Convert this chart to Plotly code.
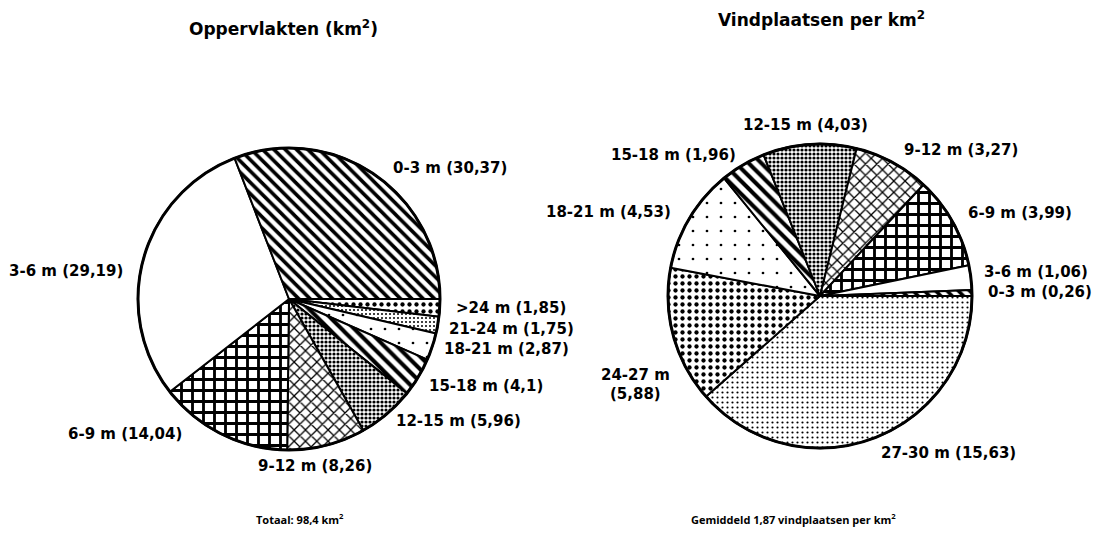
import plotly.graph_objects as go

W, H = 1098, 534

# --- data -------------------------------------------------------------
area_classes = ["0-3 m", "3-6 m", "6-9 m", "9-12 m", "12-15 m",
                "15-18 m", "18-21 m", "21-24 m", ">24 m"]
area_values = [30.37, 29.19, 14.04, 8.26, 5.96, 4.1, 2.87, 1.75, 1.85]

site_classes = ["0-3 m", "3-6 m", "6-9 m", "9-12 m", "12-15 m",
                "15-18 m", "18-21 m", "24-27 m", "27-30 m"]
site_values = [0.26, 1.06, 3.99, 3.27, 4.03, 1.96, 4.53, 5.88, 15.63]

title_left = "Oppervlakten (km<sup>2</sup>)"
title_right = "Vindplaatsen per km<sup>2</sup>"
note_left = "Totaal: 98,4 km<sup>2</sup>"
note_right = "Gemiddeld 1,87 vindplaatsen per km<sup>2</sup>"

# --- hatching per depth class: (shape, tile size, solidity) -------------
hatch = {
    "0-3 m":   ("\\", 8, 0.45),
    "3-6 m":   ("", 8, 0.3),
    "6-9 m":   ("+", 11, 0.45),
    "9-12 m":  ("x", 8, 0.3),
    "12-15 m": (".", 4, 0.5),
    "15-18 m": ("\\", 9, 0.45),
    "18-21 m": (".", 14, 0.03),
    "21-24 m": (".", 4, 0.2),
    ">24 m":   (".", 7, 0.3),
    "24-27 m": (".", 7, 0.3),
    "27-30 m": (".", 5, 0.15),
}


def fmt(v):
    return str(v).replace(".", ",")


def px(x):
    return x / W


def py(y):
    return 1 - y / H


def pie(classes, values, cx, cy, r):
    # slices run clockwise from 3 o'clock, starting with the last class
    cls = classes[::-1]
    vals = values[::-1]
    return go.Pie(
        labels=cls, values=vals, sort=False, direction="clockwise",
        rotation=90, textinfo="none", hoverinfo="skip",
        showlegend=False,
        domain=dict(x=[px(cx - r), px(cx + r)], y=[py(cy + r), py(cy - r)]),
        marker=dict(
            colors=["white"] * len(cls),
            line=dict(color="black", width=2),
            pattern=dict(
                shape=[hatch[c][0] for c in cls],
                size=[hatch[c][1] for c in cls],
                solidity=[hatch[c][2] for c in cls],
                fgcolor="black", bgcolor="white", fillmode="replace",
            ),
        ),
    )


L = dict(cx=289, cy=299, r=151)
R = dict(cx=820, cy=296, r=152)

fig = go.Figure()
fig.add_trace(pie(area_classes, area_values, **L))
fig.add_trace(pie(site_classes, site_values, **R))

# heavier outer rim
for c in (L, R):
    fig.add_shape(type="circle", xref="paper", yref="paper",
                  x0=px(c["cx"] - c["r"]), x1=px(c["cx"] + c["r"]),
                  y0=py(c["cy"] + c["r"]), y1=py(c["cy"] - c["r"]),
                  line=dict(color="black", width=3), layer="above")

FONT = "DejaVu Sans"
lab_font = dict(family=FONT, size=15, color="black", weight=700)


def text(x, y, s, font, xa="center"):
    fig.add_annotation(x=px(x), y=py(y), xref="paper", yref="paper",
                       text=s, showarrow=False, xanchor=xa,
                       yanchor="middle", align="center", font=font,
                       borderpad=0)


# label anchor positions (x, y, xanchor) per slice
left_pos = {
    "0-3 m": (392, 168, "left"),
    "3-6 m": (124, 271, "right"),
    "6-9 m": (183, 434, "right"),
    "9-12 m": (315, 466, "center"),
    "12-15 m": (395, 421, "left"),
    "15-18 m": (428, 386, "left"),
    "18-21 m": (443, 349, "left"),
    "21-24 m": (448, 329, "left"),
    ">24 m": (455, 308, "left"),
}
right_pos = {
    "0-3 m": (987, 292, "left"),
    "3-6 m": (983, 272, "left"),
    "6-9 m": (967, 213, "left"),
    "9-12 m": (903, 150, "left"),
    "12-15 m": (742, 125, "left"),
    "15-18 m": (610, 155, "left"),
    "18-21 m": (672, 212, "right"),
    "24-27 m": (635, 375, "center"),
    "27-30 m": (880, 453, "left"),
}

for classes, values, pos in ((area_classes, area_values, left_pos),
                             (site_classes, site_values, right_pos)):
    for c, v in zip(classes, values):
        x, y, xa = pos[c]
        if c == "24-27 m":
            # two-line label with tight leading
            text(x, y, c, lab_font, xa)
            text(x, y + 19, f"({fmt(v)})", lab_font, xa)
        else:
            text(x, y, f"{c} ({fmt(v)})", lab_font, xa)

title_font = dict(family=FONT, size=17, color="black", weight=700)
text(283, 28, title_left, title_font)
text(821, 19, title_right, title_font)

note_font = dict(family="Open Sans", size=11, color="black", weight=700)
text(300, 519, note_left, note_font)
text(793, 519, note_right, note_font)

fig.update_layout(width=W, height=H, margin=dict(l=0, r=0, t=0, b=0),
                  paper_bgcolor="white", plot_bgcolor="white")

fig.write_html("out.html")
